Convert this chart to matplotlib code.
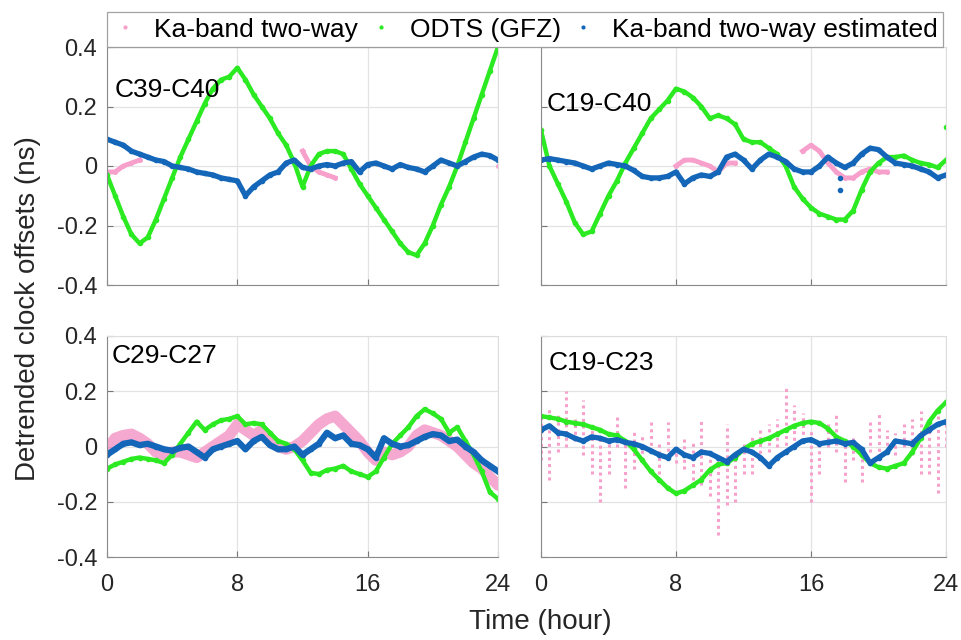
import numpy as np
import matplotlib
matplotlib.use("Agg")
import matplotlib.pyplot as plt
from matplotlib.lines import Line2D

plt.rcParams['font.family'] = ['Liberation Sans', 'DejaVu Sans']

# colours
PINK = '#f6a0cb'
GREEN = '#2bea22'
BLUE = '#1466b8'

hours = np.arange(0, 24.01, 0.5)
nan = np.nan

# ---------- C39-C40 ----------
tl_green = [-0.03, -0.10, -0.17, -0.23, -0.26, -0.24, -0.18, -0.11, -0.04, 0.03,
            0.09, 0.15, 0.21, 0.26, 0.29, 0.30, 0.33, 0.29, 0.24, 0.20,
            0.16, 0.11, 0.07, 0.01, -0.07, 0.00, 0.04, 0.05, 0.05, 0.04,
            -0.01, -0.06, -0.10, -0.14, -0.18, -0.22, -0.26, -0.29, -0.30, -0.26,
            -0.20, -0.13, -0.07, 0.00, 0.08, 0.16, 0.24, 0.32, 0.40]
tl_blue = [0.09, 0.08, 0.07, 0.05, 0.04, 0.03, 0.02, 0.015, 0.0, -0.005,
           -0.01, -0.02, -0.025, -0.03, -0.04, -0.045, -0.05, -0.10, -0.07, -0.05,
           -0.03, -0.02, 0.01, 0.02, -0.005, -0.01, 0.0, 0.005, 0.0, 0.01,
           0.015, -0.02, 0.005, 0.01, 0.0, -0.01, 0.005, -0.005, -0.01, -0.02,
           0.0, 0.02, 0.01, 0.0, 0.015, 0.03, 0.04, 0.035, 0.02]
tl_pink = [-0.02, -0.02, 0.0, 0.01, 0.02, nan, nan, nan, nan, nan,
           nan, nan, nan, nan, nan, nan, nan, nan, nan, nan,
           nan, nan, nan, nan, 0.05, 0.0, -0.02, -0.03, -0.04, nan,
           nan, nan, nan, nan, nan, nan, nan, nan, nan, nan,
           nan, nan, nan, nan, nan, nan, nan, nan, 0.0]

# ---------- C19-C40 ----------
tr_green = [0.12, 0.0, -0.06, -0.12, -0.19, -0.23, -0.22, -0.16, -0.10, -0.05,
            0.01, 0.06, 0.11, 0.16, 0.19, 0.22, 0.26, 0.25, 0.23, 0.20,
            0.16, 0.17, 0.16, 0.14, 0.09, 0.08, 0.08, 0.06, 0.04, 0.0,
            -0.07, -0.11, -0.14, -0.16, -0.17, -0.18, -0.18, -0.15, -0.08, -0.02,
            0.01, 0.03, 0.03, 0.035, 0.02, 0.01, 0.005, -0.005, 0.02]
tr_blue = [0.02, 0.025, 0.02, 0.015, 0.01, 0.0, -0.01, 0.0, 0.01, 0.005,
           0.0, -0.015, -0.035, -0.04, -0.04, -0.035, -0.02, -0.06, -0.04, -0.03,
           -0.035, -0.02, 0.03, 0.04, 0.02, -0.01, 0.02, 0.04, 0.03, 0.015,
           -0.01, -0.02, -0.02, 0.0, 0.03, 0.01, -0.005, 0.01, 0.04, 0.06,
           0.055, 0.03, 0.01, 0.005, 0.0, -0.01, -0.02, -0.04, -0.03]
tr_pink = [nan, nan, nan, nan, nan, nan, nan, nan, nan, nan,
           nan, nan, nan, nan, nan, nan, 0.0, 0.02, 0.02, 0.01,
           0.0, -0.02, 0.01, 0.01, nan, nan, nan, nan, nan, nan,
           nan, 0.05, 0.07, 0.05, 0.01, -0.02, -0.04, -0.04, -0.02, -0.01,
           -0.02, -0.02, nan, nan, nan, nan, nan, nan, nan]
tr_green_out_h = [24.0]
tr_green_out = [0.13]
tr_blue_out_h = [17.7, 17.7]
tr_blue_out = [-0.04, -0.08]

# ---------- C29-C27 ----------
bl_green = [-0.08, -0.065, -0.055, -0.045, -0.04, -0.045, -0.05, -0.06, -0.03, 0.01,
            0.05, 0.09, 0.06, 0.08, 0.095, 0.10, 0.11, 0.08, 0.085, 0.08,
            0.05, 0.02, 0.01, -0.01, -0.05, -0.095, -0.10, -0.085, -0.08, -0.07,
            -0.09, -0.10, -0.11, -0.09, -0.04, 0.01, 0.04, 0.07, 0.11, 0.135,
            0.12, 0.10, 0.05, 0.07, 0.02, -0.03, -0.09, -0.165, -0.19]
bl_blue = [-0.03, -0.01, 0.01, 0.015, 0.005, 0.01, 0.0, -0.01, -0.015, -0.005,
           0.0, -0.02, -0.04, -0.01, 0.0, 0.01, 0.02, -0.01, 0.02, 0.035,
           0.005, -0.01, -0.01, 0.0, -0.03, -0.01, 0.01, 0.05, 0.03, 0.04,
           0.01, 0.005, -0.01, -0.04, 0.03, 0.01, 0.0, 0.005, 0.02, 0.035,
           0.045, 0.04, 0.02, 0.025, 0.0, -0.02, -0.05, -0.07, -0.09]
bl_pink = [-0.01, 0.03, 0.04, 0.045, 0.03, 0.01, -0.02, -0.03, -0.02, -0.02,
           -0.03, -0.04, -0.02, 0.0, 0.02, 0.04, 0.08, 0.06, 0.04, 0.06,
           0.03, 0.0, -0.01, 0.0, 0.02, 0.05, 0.08, 0.10, 0.11, 0.08,
           0.05, 0.02, -0.02, -0.05, -0.02, -0.03, -0.02, 0.0, 0.04, 0.06,
           0.05, 0.04, 0.02, 0.0, -0.03, -0.06, -0.08, -0.11, -0.14]

# ---------- C19-C23 ----------
br_green = [0.11, 0.105, 0.10, 0.09, 0.085, 0.08, 0.07, 0.06, 0.045, 0.04,
            0.02, -0.01, -0.05, -0.09, -0.12, -0.15, -0.17, -0.16, -0.14, -0.12,
            -0.085, -0.065, -0.06, -0.04, -0.01, 0.01, 0.02, 0.03, 0.045, 0.06,
            0.075, 0.085, 0.09, 0.085, 0.065, 0.035, 0.02, 0.0, -0.03, -0.06,
            -0.075, -0.08, -0.07, -0.06, -0.02, 0.03, 0.09, 0.13, 0.16]
br_blue = [0.06, 0.075, 0.05, 0.045, 0.03, 0.02, 0.035, 0.03, 0.02, 0.025,
           0.015, 0.01, 0.0, -0.015, -0.03, -0.04, -0.01, -0.03, -0.04, -0.02,
           -0.025, -0.04, -0.055, -0.03, -0.01, -0.02, -0.04, -0.07, -0.04, -0.02,
           0.0, 0.02, 0.025, 0.01, 0.015, 0.02, 0.01, 0.015, -0.01, -0.06,
           -0.04, -0.02, 0.02, 0.015, 0.01, 0.04, 0.06, 0.08, 0.09]
br_pink_lo = [-0.05, -0.12, -0.02, 0.0, 0.02, -0.03, -0.10, -0.20, -0.10, 0.0,
              -0.15, -0.08, -0.05, -0.02, -0.10, -0.04, -0.06, -0.08, -0.12, -0.14,
              -0.18, -0.32, -0.21, -0.20, -0.10, -0.10, -0.05, -0.02, 0.0, -0.02,
              0.0, 0.02, -0.20, -0.10, 0.0, -0.02, -0.13, -0.05, -0.13, -0.02,
              -0.04, -0.02, -0.03, 0.0, -0.03, -0.10, -0.10, -0.17, 0.0]
br_pink_hi = [0.12, 0.14, 0.12, 0.20, 0.10, 0.17, 0.06, 0.04, 0.03, 0.11,
              0.02, 0.06, 0.05, 0.10, 0.02, 0.09, 0.0, 0.03, 0.02, 0.10,
              -0.02, -0.05, 0.08, -0.02, 0.01, 0.04, 0.07, 0.08, 0.10, 0.21,
              0.15, 0.12, 0.06, 0.02, 0.08, 0.12, 0.02, 0.03, 0.0, 0.10,
              0.12, 0.06, 0.05, 0.08, 0.10, 0.13, 0.09, 0.12, 0.10]

fig = plt.figure(figsize=(9.61, 6.4), dpi=100)
W, H = 961.0, 640.0

def make_ax(x0, x1, y0, y1):
    return fig.add_axes([x0 / W, 1 - y1 / H, (x1 - x0) / W, (y1 - y0) / H])

ax_tl = make_ax(107, 498, 47, 285)
ax_tr = make_ax(541, 946, 47, 285)
ax_bl = make_ax(107, 498, 336, 557)
ax_br = make_ax(541, 946, 336, 557)

def style(ax, show_x, show_y):
    ax.set_xlim(0, 24)
    ax.set_ylim(-0.4, 0.4)
    ax.set_xticks([0, 8, 16, 24])
    ax.set_yticks([-0.4, -0.2, 0, 0.2, 0.4])
    ax.set_yticklabels(['-0.4', '-0.2', '0', '0.2', '0.4'])
    ax.grid(True, color='#e3e3e3', linewidth=0.9)
    ax.set_axisbelow(True)
    ax.tick_params(direction='in', length=4, width=0.8, color='#777777',
                   labelsize=17, labelcolor='#262626', pad=7)
    ax.tick_params(axis='x', pad=12)
    for s in ['left', 'bottom']:
        ax.spines[s].set_color('#8a8a8a')
    for s in ['top', 'right']:
        ax.spines[s].set_color('#dddddd')
    if not show_x:
        ax.tick_params(labelbottom=False)
    if not show_y:
        ax.tick_params(labelleft=False)

def draw(ax, pink, green, blue):
    ax.plot(hours, pink, color=PINK, lw=3.5, marker='.', ms=5)
    ax.plot(hours, green, color=GREEN, lw=3.2, marker='.', ms=6)
    ax.plot(hours, blue, color=BLUE, lw=3.8, marker='.', ms=6)

draw(ax_tl, tl_pink, tl_green, tl_blue)
draw(ax_tr, tr_pink, tr_green, tr_blue)
ax_tr.plot(tr_green_out_h, tr_green_out, '.', color=GREEN, ms=6)
ax_tr.plot(tr_blue_out_h, tr_blue_out, '.', color=BLUE, ms=6)

ax_bl.plot(hours, bl_pink, color=PINK, lw=8, alpha=0.9, solid_capstyle='round')
ax_bl.plot(hours, bl_green, color=GREEN, lw=3.2, marker='.', ms=6)
ax_bl.plot(hours, bl_blue, color=BLUE, lw=4.5, marker='.', ms=6)

ax_br.vlines(hours, br_pink_lo, br_pink_hi, color=PINK, lw=2.2, linestyles=(0, (1, 1.2)))
ax_br.plot(hours, br_green, color=GREEN, lw=3.2, marker='.', ms=6)
ax_br.plot(hours, br_blue, color=BLUE, lw=3.8, marker='.', ms=6)

style(ax_tl, False, True)
style(ax_tr, False, False)
style(ax_bl, True, True)
style(ax_br, True, False)

ax_tl.text(0.02, 0.82, 'C39-C40', transform=ax_tl.transAxes, fontsize=19, va='center')
ax_tr.text(0.015, 0.76, 'C19-C40', transform=ax_tr.transAxes, fontsize=19, va='center')
ax_bl.text(0.013, 0.91, 'C29-C27', transform=ax_bl.transAxes, fontsize=19, va='center')
ax_br.text(0.02, 0.88, 'C19-C23', transform=ax_br.transAxes, fontsize=19, va='center')

fig.text(28 / W, 1 - 309 / H, 'Detrended clock offsets (ns)', rotation=90,
         ha='center', va='center', fontsize=20, color='#262626')
fig.text(540 / W, 1 - 622 / H, 'Time (hour)', ha='center', va='center',
         fontsize=20, color='#262626')

handles = [Line2D([], [], ls='none', marker='.', ms=4, color=c) for c in (PINK, GREEN, BLUE)]
labels = ['Ka-band two-way', 'ODTS (GFZ)', 'Ka-band two-way estimated']
leg = fig.legend(handles, labels, ncol=3, loc='lower left',
                 bbox_to_anchor=(107 / W, 1 - 47 / H, (943 - 107) / W, 38 / H),
                 mode='expand', fontsize=19, frameon=True, fancybox=False,
                 edgecolor='#8a8a8a', handlelength=1.0, handletextpad=0.6,
                 borderaxespad=0, borderpad=0.2, columnspacing=1.0)
leg.get_frame().set_linewidth(0.9)

fig.savefig('out.png', dpi=100)
